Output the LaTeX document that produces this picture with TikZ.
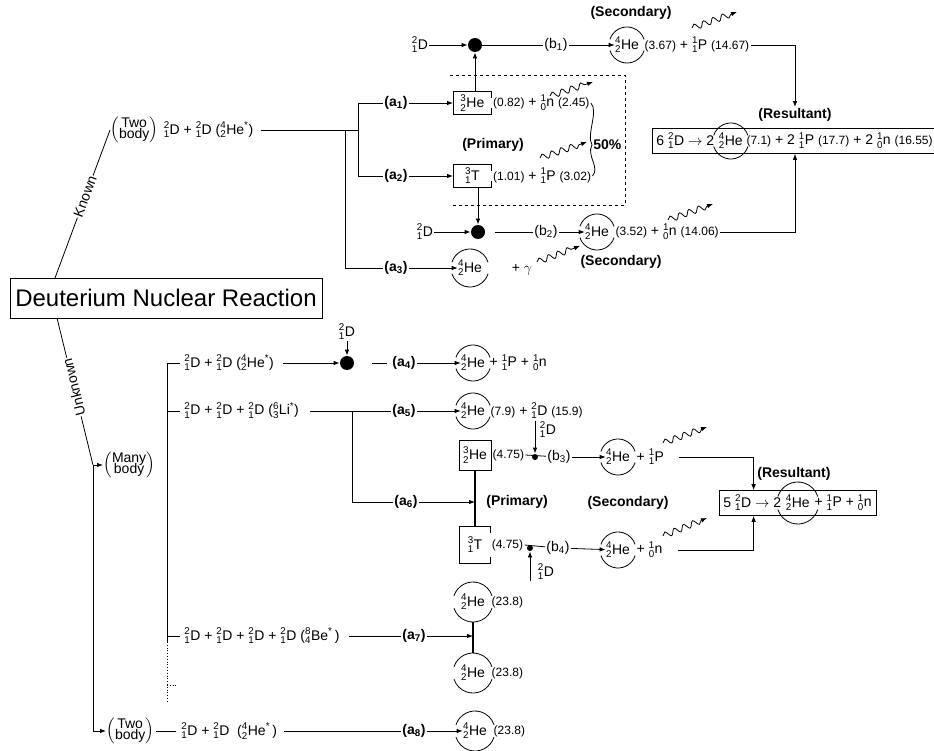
\documentclass[tikz,border=0pt]{standalone}
\usepackage{amsmath}
\usepackage{fontspec}
\setmainfont{Liberation Sans}
\usetikzlibrary{arrows.meta,decorations.pathmorphing,fit,calc}

\newcommand{\iso}[3]{\ensuremath{{}^{\text{#1}}_{\text{#2}}}#3}
\newcommand{\en}[1]{{\fontsize{12}{14}\selectfont(#1)}}
\newcommand{\exc}{\textsuperscript{*}}
\newcommand{\bodybox}[1]{$\left(\begin{tabular}{@{}c@{}}#1\\[-3pt]body\end{tabular}\right)$}

\begin{document}
\begin{tikzpicture}[x=1pt,y=-1pt,line width=0.8pt,
    txt/.style={font=\fontsize{14}{16}\selectfont, inner sep=1pt},
    lbl/.style={font=\fontsize{14}{16}\selectfont\bfseries, inner sep=1pt},
    he/.style={txt, inner sep=0pt},
    par/.style={font=\fontsize{14}{14}\selectfont, inner sep=0pt},
    arr/.style={-{Latex[length=6pt,width=4.5pt]}},
    wavy/.style={arr, decorate,
        decoration={snake, amplitude=3pt, segment length=10pt, post length=5pt}},
    bigdot/.style={circle, fill, inner sep=0pt, minimum size=14pt},
    smalldot/.style={circle, fill, inner sep=0pt, minimum size=6pt},
    heavy/.style={line width=1.6pt}]
    \useasboundingbox (0,0) rectangle (934,751);

    \node[draw, font=\fontsize{24}{26}\selectfont, minimum width=312pt,
        minimum height=40pt, inner sep=2pt] (main) at (166,298)
        {Deuterium Nuclear Reaction};
    \coordinate (kA) at (55,278);
    \coordinate (kB) at (57,318);

    % known, two body
    \node[par, anchor=west] (twoA) at (110,130) {\bodybox{Two}};
    \node[txt, anchor=west] (rA) at ([xshift=4pt]twoA.east)
        {\iso{2}{1}{D} + \iso{2}{1}{D} (\iso{4}{2}{He}\exc)};
    \draw (kA) -- node[txt, sloped, fill=white, pos=0.55] {Known} (twoA.west);
    \coordinate (jA) at (358,130);
    \coordinate (jA3) at (345,130);
    \draw[shorten <=6pt] (rA.east) -- (jA);
    \node[lbl] (a1) at (396,103) {(a\textsubscript{1})};
    \node[lbl] (a2) at (396,176) {(a\textsubscript{2})};
    \node[lbl] (a3) at (396,268) {(a\textsubscript{3})};
    \draw (jA) |- (a1.west);
    \draw (jA) |- (a2.west);
    \draw (jA3) |- (a3.west);

    \node[txt, anchor=west, inner sep=3pt, minimum width=38pt] (he3a) at (453,103)
        {\iso{3}{2}{He}};
    \node[txt, anchor=west] (e1) at (he3a.east)
        {\en{0.82} + \iso{1}{0}{n} \en{2.45}};
    \node[txt, anchor=west, inner sep=3pt, minimum width=38pt] (t3a) at (453,176)
        {\iso{3}{1}{T}};
    \node[txt, anchor=west] (e2) at (t3a.east)
        {\en{1.01} + \iso{1}{1}{P} \en{3.02}};
    \draw[arr] (a1) -- (he3a);
    \draw[arr] (a2) -- (t3a);
    \node[lbl] (prim1) at (493,145) {(Primary)};
    \node[lbl, anchor=west] (pct) at (592,145) {50\%};
    \draw (e1.east) .. controls +(8,8) and +(-6,-10) .. (pct.west);
    \draw (e2.east) .. controls +(8,-8) and +(-6,10) .. (pct.west);
    \draw[dashed] (450,75) -- (625,75) -- (625,205) -- (453,205);

    \node[bigdot] (dot1) at (475,45) {};
    \node[txt] (d1) at (420,45) {\iso{2}{1}{D}};
    \draw[arr] (d1) -- (dot1);
    \draw[arr] (he3a.north -| dot1) -- (dot1);
    \node[txt] (b1) at (556,45) {(b\textsubscript{1})};
    \draw (dot1) -- (b1);
    \node[he] (heb1) at (627,45) {\iso{4}{2}{He}};
    \draw[arr] (b1) -- (heb1);
    \node[txt, anchor=west] (e3) at ([xshift=4pt]heb1.east)
        {\en{3.67} + \iso{1}{1}{P} \en{14.67}};
    \node[lbl] (sec1) at (631,13) {(Secondary)};
    \node[lbl] (res1) at (795,115) {(Resultant)};
    \draw[arr] (e3.east) -| (res1.north);

    \node[bigdot] (dot2) at (478,232) {};
    \node[txt] (d2) at (425,232) {\iso{2}{1}{D}};
    \draw[arr] (d2) -- (dot2);
    \draw[arr] (t3a.south -| dot2) -- (dot2);
    \node[txt] (b2) at (546,232) {(b\textsubscript{2})};
    \draw[shorten <=10pt] (dot2) -- (b2);
    \node[he] (heb2) at (597,232) {\iso{4}{2}{He}};
    \draw[arr] (b2) -- (heb2);
    \node[txt, anchor=west] (e4) at ([xshift=5pt]heb2.east)
        {\en{3.52} + \iso{1}{0}{n} \en{14.06}};
    \node[lbl] (sec2) at (621,262) {(Secondary)};

    \node[he] (hea3) at (470,268) {\iso{4}{2}{He}};
    \draw[arr] (a3) -- (hea3);
    \node[txt] (gam) at (522,270) {+ $\gamma$};

    \node[txt, anchor=west] (r6a) at (655,141) {6 \iso{2}{1}{D} $\rightarrow$ 2};
    \node[he, anchor=west] (r6he) at ([xshift=3pt]r6a.east) {\iso{4}{2}{He}};
    \node[txt, anchor=west] (r6b) at ([xshift=2pt]r6he.east)
        {\en{7.1} + 2 \iso{1}{1}{P} \en{17.7} + 2 \iso{1}{0}{n} \en{16.55}};
    \node[draw, fit=(r6a)(r6b), inner sep=3pt] (resA) {};
    \draw[arr] (e4.east) -| (res1.north |- resA.south);

    % unknown, many body
    \coordinate (jB) at (93,465);
    \draw (jB) -- node[txt, sloped, allow upside down, fill=white, pos=0.53]
        {Unknown} (kB);
    \node[par, anchor=west] (many) at (103,465) {\bodybox{Many}};
    \node[par, anchor=west] (twoB) at (106,731) {\bodybox{Two}};
    \draw[arr] (jB) -- (many);
    \draw[arr] (jB) |- (twoB);

    \node[txt, anchor=west] (r4) at (183,363)
        {\iso{2}{1}{D} + \iso{2}{1}{D} (\iso{4}{2}{He}\exc)};
    \node[txt, anchor=west] (r5) at (183,411)
        {\iso{2}{1}{D} + \iso{2}{1}{D} + \iso{2}{1}{D} (\iso{6}{3}{Li}\exc)};
    \node[txt, anchor=west] (r7) at (183,636)
        {\iso{2}{1}{D} + \iso{2}{1}{D} + \iso{2}{1}{D} + \iso{2}{1}{D} (\iso{8}{4}{Be}\exc\,)};
    \coordinate (bb) at (167,642);
    \draw ([xshift=-3pt]r4.west) -| (bb);
    \draw ([xshift=-3pt]r5.west) -- (r5.west -| bb);
    \draw ([xshift=-3pt]r7.west) -- (r7.west -| bb);
    \draw[dotted] (bb) -- (167,703);
    \draw[dotted] (167,685) -- (178,685);

    \node[bigdot] (dot4) at (347,363) {};
    \draw[arr, shorten <=8pt] (r4.east) -- (dot4);
    \node[txt] (d4) at (347,332) {\iso{2}{1}{D}};
    \draw[arr] (d4) -- (dot4);
    \node[lbl] (a4) at (404,363) {(a\textsubscript{4})};
    \draw[shorten <=18pt, shorten >=4pt] (dot4) -- (a4);
    \node[he] (hea4) at (473,363) {\iso{4}{2}{He}};
    \draw[arr] (a4) -- (hea4);
    \node[txt, anchor=west] (e5) at ([xshift=3pt]hea4.east)
        {+ \iso{1}{1}{P} + \iso{1}{0}{n}};

    \node[lbl] (a5) at (404,411) {(a\textsubscript{5})};
    \draw[shorten <=10pt] (r5.east) -- (a5);
    \node[he] (hea5) at (473,411) {\iso{4}{2}{He}};
    \draw[arr] (a5) -- (hea5);
    \node[txt, anchor=west] (e6) at ([xshift=4pt]hea5.east)
        {\en{7.9} + \iso{2}{1}{D} \en{15.9}};
    \coordinate (j5) at (352,411);
    \node[lbl] (a6) at (406,502) {(a\textsubscript{6})};
    \draw (j5) |- (a6);

    \node[txt, draw, inner sep=4pt, minimum width=30pt, minimum height=30pt] (he3b)
        at (475,455) {\iso{3}{2}{He}};
    \node[txt, inner sep=4pt, minimum width=30pt, minimum height=36pt] (t3b)
        at (475,545) {\iso{3}{1}{T}};
    \draw[heavy] (he3b.south) -- (t3b.north);
    \draw[arr] (a6) -- (he3b.south |- a6);
    \node[lbl, anchor=west] (prim2) at (485,502) {(Primary)};
    \node[lbl] (sec3) at (628,503) {(Secondary)};

    \node[txt, anchor=west] (e7) at (he3b.east) {\en{4.75}};
    \node[smalldot] (dot3) at (535,457) {};
    \node[txt] (d3) at (548,430) {\iso{2}{1}{D}};
    \draw[arr] (dot3 |- d3.north) -- (dot3);
    \node[txt] (b3) at (559,457) {(b\textsubscript{3})};
    \draw (e7.east) -- (b3);
    \node[he] (heb3) at (618,457) {\iso{4}{2}{He}};
    \draw[arr] (b3) -- (heb3);
    \node[txt, anchor=west] (e8) at ([xshift=5pt]heb3.east) {+ \iso{1}{1}{P}};

    \node[txt, anchor=west] (e9a) at (t3b.east) {\en{4.75}};
    \node[smalldot] (dot5) at (530,548) {};
    \node[txt] (d5) at (546,572) {\iso{2}{1}{D}};
    \draw[arr] (dot5 |- d5.south) -- (dot5);
    \node[txt] (b4) at (558,548) {(b\textsubscript{4})};
    \draw (e9a.east) -- (b4);
    \node[he] (heb4) at (618,550) {\iso{4}{2}{He}};
    \draw[arr] (b4) -- (heb4);
    \node[txt, anchor=west] (e9) at ([xshift=5pt]heb4.east) {+ \iso{1}{0}{n}};

    \node[txt, anchor=west] (r5a) at (722,503) {5 \iso{2}{1}{D} $\rightarrow$ 2};
    \node[he, anchor=west] (r5he) at ([xshift=3pt]r5a.east) {\iso{4}{2}{He}};
    \node[txt, anchor=west] (r5b) at ([xshift=3pt]r5he.east)
        {+ \iso{1}{1}{P} + \iso{1}{0}{n}};
    \node[draw, fit=(r5a)(r5b), inner sep=3pt] (resB) {};
    \node[lbl, anchor=west] (res2) at (756,474) {(Resultant)};
    \draw[arr] ([xshift=14pt]e8.east) -| ($(resB.north west)+(35,0)$);
    \draw[arr] ([xshift=14pt]e9.east) -| ($(resB.south west)+(35,0)$);

    \node[lbl] (a7) at (414,636) {(a\textsubscript{7})};
    \draw[shorten <=8pt] (r7.east) -- (a7);
    \node[he] (heu) at (473,602) {\iso{4}{2}{He}};
    \node[he] (hel) at (473,673) {\iso{4}{2}{He}};
    \node[txt, anchor=west] (eu) at ([xshift=5pt]heu.east) {\en{23.8}};
    \node[txt, anchor=west] (el) at ([xshift=5pt]hel.east) {\en{23.8}};
    \draw[heavy] ($(heu.center)+(0,20)$) -- ($(hel.center)+(0,-20)$);
    \draw[arr] (a7) -- (a7 -| heu);

    \node[txt, anchor=west] (r8) at (180,731)
        {\iso{2}{1}{D} + \iso{2}{1}{D} \ (\iso{4}{2}{He}\exc\,)};
    \draw[shorten <=2pt, shorten >=4pt] (twoB.east) -- (r8.west);
    \node[lbl] (a8) at (414,731) {(a\textsubscript{8})};
    \draw[shorten <=6pt] (r8.east) -- (a8);
    \node[he] (hea8) at (475,731) {\iso{4}{2}{He}};
    \draw[arr] (a8) -- (hea8);
    \node[txt, anchor=west] (e10) at ([xshift=5pt]hea8.east) {\en{23.8}};

    \foreach \n/\rad in {heb1/18,heb2/18,hea3/19,r6he/18,hea4/18,hea5/18,
            heb3/18,heb4/18,r5he/21,heu/20,hel/20,hea8/20} {
        \draw (\n.center) ++(18:\rad) arc (18:162:\rad);
        \draw (\n.center) ++(198:\rad) arc (198:342:\rad);
    }
    \foreach \n in {he3a,t3a,t3b}
        \draw ($(\n.north east)+(0,6)$) -- (\n.north east) -- (\n.north west)
            -- (\n.south west) -- (\n.south east) -- ++(0,-6);
    \foreach \xa/\ya/\xb/\yb in {550/96/593/82,540/158/587/142,692/28/737/12,
            668/220/713/204,537/262/580/246,663/443/707/427,663/536/707/518}
        \draw[wavy] (\xa,\ya) -- (\xb,\yb);
\end{tikzpicture}
\end{document}
